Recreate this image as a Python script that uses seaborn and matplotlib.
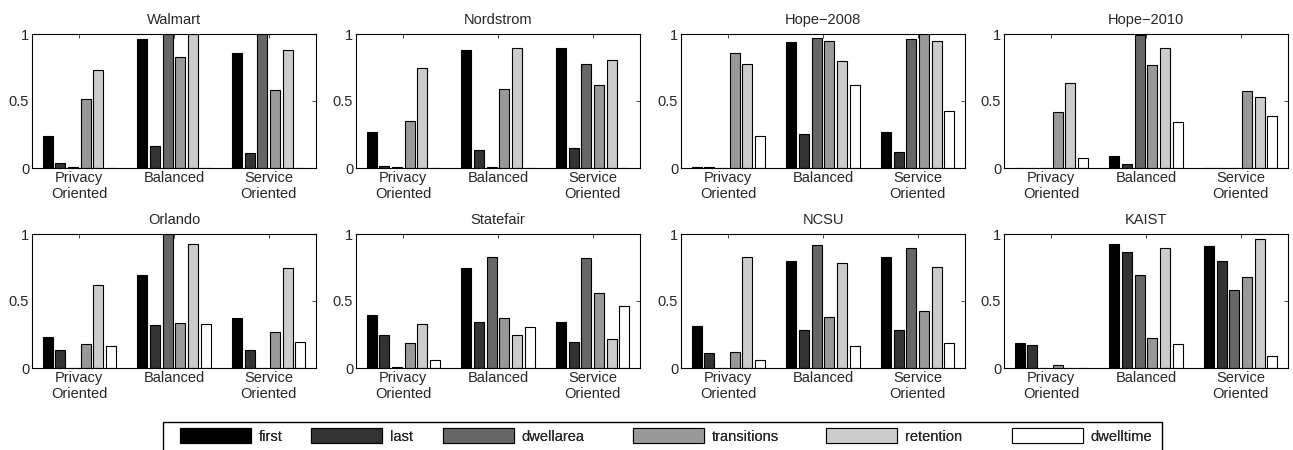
import pandas as pd
import numpy as np
import matplotlib
matplotlib.use('Agg')
import matplotlib.pyplot as plt
import seaborn as sns
from matplotlib.patches import Rectangle

# categories
groups = ['Privacy\nOriented', 'Balanced', 'Service\nOriented']
features = ['first', 'last', 'dwellarea', 'transitions', 'retention', 'dwelltime']
sites = ['Walmart', 'Nordstrom', 'Hope\u22122008', 'Hope\u22122010',
         'Orlando', 'Statefair', 'NCSU', 'KAIST']
colors = ['#000000', '#333333', '#666666', '#999999', '#cccccc', '#ffffff']

# values per site: rows = groups, columns = features
walmart = [[0.24, 0.037, 0.004, 0.515, 0.73, 0.0],
           [0.965, 0.164, 1.0, 0.826, 1.0, 0.0],
           [0.858, 0.11, 1.0, 0.585, 0.878, 0.0]]
nordstrom = [[0.269, 0.017, 0.005, 0.353, 0.746, 0.0],
             [0.878, 0.134, 0.004, 0.59, 0.896, 0.0],
             [0.893, 0.149, 0.779, 0.617, 0.806, 0.0]]
hope2008 = [[0.007, 0.005, 0.0, 0.856, 0.776, 0.239],
            [0.94, 0.254, 0.968, 0.95, 0.798, 0.617],
            [0.266, 0.117, 0.965, 1.0, 0.948, 0.428]]
hope2010 = [[0.003, 0.003, 0.0, 0.42, 0.634, 0.077],
            [0.09, 0.03, 0.993, 0.766, 0.896, 0.343],
            [0.003, 0.003, 0.0, 0.575, 0.53, 0.386]]
orlando = [[0.234, 0.134, 0.0, 0.179, 0.619, 0.164],
           [0.694, 0.321, 1.0, 0.338, 0.928, 0.328],
           [0.371, 0.134, 0.0, 0.269, 0.746, 0.192]]
statefair = [[0.396, 0.246, 0.005, 0.184, 0.328, 0.06],
             [0.746, 0.343, 0.828, 0.373, 0.246, 0.308],
             [0.346, 0.197, 0.818, 0.557, 0.219, 0.465]]
ncsu = [[0.316, 0.112, 0.003, 0.119, 0.828, 0.06],
        [0.796, 0.284, 0.92, 0.383, 0.784, 0.164],
        [0.826, 0.284, 0.896, 0.423, 0.756, 0.184]]
kaist = [[0.189, 0.174, 0.003, 0.022, 0.002, 0.002],
         [0.923, 0.868, 0.694, 0.224, 0.893, 0.182],
         [0.91, 0.799, 0.582, 0.679, 0.963, 0.09]]

site_values = [walmart, nordstrom, hope2008, hope2010, orlando, statefair, ncsu, kaist]

rows = []
for site, vals in zip(sites, site_values):
    for g, grow in zip(groups, vals):
        for f, v in zip(features, grow):
            rows.append({'site': site, 'group': g, 'feature': f, 'value': v})
df = pd.DataFrame(rows)

sns.set_style('white')
plt.rcParams['font.family'] = ['Liberation Sans', 'DejaVu Sans']
palette = dict(zip(features, colors))

fig = plt.figure(figsize=(12.93, 4.5), dpi=100)
W, H = 1293, 450
lefts = [32, 356, 681, 1004]
bottoms = [168, 368]
aw, ah = 284, 134

for i, site in enumerate(sites):
    r, c = divmod(i, 4)
    ax = fig.add_axes([lefts[c] / W, (H - bottoms[r]) / H, aw / W, ah / H])
    sns.barplot(data=df[df['site'] == site], x='group', y='value', hue='feature',
                order=groups, hue_order=features, palette=palette,
                edgecolor='black', linewidth=0.8, width=0.8, gap=0.2,
                ax=ax, legend=(i == 0))
    ax.set_xlim(-0.5, 2.5)
    ax.set_ylim(0, 1)
    ax.set_yticks([0, 0.5, 1])
    ax.set_yticklabels(['0', '0.5', '1'])
    ax.set_xlabel('')
    ax.set_ylabel('')
    ax.set_title(site, fontsize=10.5, pad=7)
    ax.tick_params(direction='in', top=True, right=True, length=3,
                   labelsize=10.5, width=0.6, pad=2)
    for s in ax.spines.values():
        s.set_linewidth(0.8)
        s.set_color('black')
    if i == 0:
        handles, labels = ax.get_legend_handles_labels()
        ax.get_legend().remove()

# legend box (bottom edge falls outside the figure, as in the original)
fig.patches.append(Rectangle((163 / W, -0.05), (1162 - 163) / W, (H - 422) / H + 0.05,
                             transform=fig.transFigure, facecolor='white',
                             edgecolor='black', linewidth=1.0, zorder=0))
# one entry per legend so the columns sit where the original has them
entry_x = [180, 311, 443, 633, 826, 1012]
for h, lab, x in zip(handles, labels, entry_x):
    leg = fig.legend([h], [lab], loc='upper left',
                     bbox_to_anchor=(x / W, (H - 428) / H),
                     borderaxespad=0, borderpad=0, fontsize=10.5,
                     handlelength=4.9, handleheight=1.25, handletextpad=0.5,
                     frameon=False)
    fig.add_artist(leg)

fig.savefig('out.png', dpi=100)
